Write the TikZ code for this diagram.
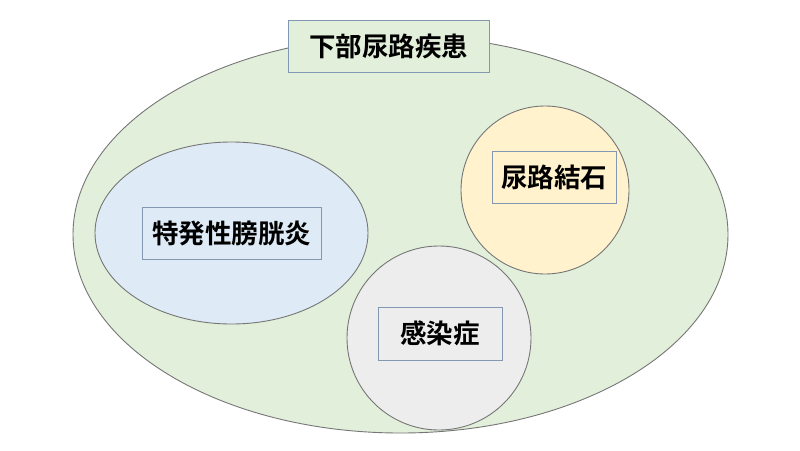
\documentclass[tikz,border=0pt]{standalone}
\usepackage{fontspec}
\newfontfamily\jpfont{Noto Sans CJK JP Bold}
\usetikzlibrary{shapes.geometric}
\definecolor{outgreen}{HTML}{E2EFDA}
\definecolor{inblue}{HTML}{DEEBF7}
\definecolor{inyellow}{HTML}{FFF2CC}
\definecolor{ingray}{HTML}{EDEDED}
\definecolor{edgegray}{HTML}{767676}
\definecolor{boxedge}{HTML}{8497B0}
\tikzset{
  area/.style={draw=edgegray, line width=0.9pt},
  labelbox/.style={draw=boxedge, line width=0.9pt, font=\jpfont\fontsize{26.5pt}{30pt}\selectfont, inner sep=0pt, text=black}
}
\begin{document}
\begin{tikzpicture}[x=1pt,y=-1pt]
\useasboundingbox (0,0) rectangle (800,450);
\fill[white] (0,0) rectangle (800,450);
\node[area, ellipse, fill=outgreen, minimum width=655, minimum height=397, inner sep=0pt] (outer) at (400.5,234.5) {};
\node[area, ellipse, fill=inblue, minimum width=273, minimum height=182, inner sep=0pt] (idio) at (231.5,233) {};
\node[area, circle, fill=inyellow, minimum size=168, inner sep=0pt] (stone) at (545,190) {};
\node[area, circle, fill=ingray, minimum size=184, inner sep=0pt] (infect) at (439,338) {};
\node[labelbox, fill=outgreen, minimum width=201, minimum height=52] (title) at (388.5,46) {下部尿路疾患};
\node[labelbox, minimum width=179, minimum height=52] (t1) at (231.5,233) {特発性膀胱炎};
\node[labelbox, minimum width=124, minimum height=52] (t2) at (554,177) {尿路結石};
\node[labelbox, minimum width=124, minimum height=53] (t3) at (440,333.5) {感染症};
\end{tikzpicture}
\end{document}
